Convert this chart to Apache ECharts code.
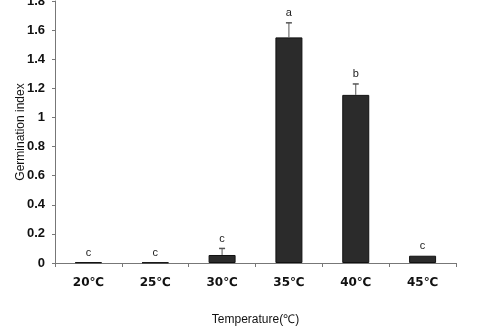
<!DOCTYPE html>
<html><head><meta charset="utf-8">
<script src="https://cdn.jsdelivr.net/npm/echarts@6/dist/echarts.min.js"></script>
<style>html,body{margin:0;padding:0;background:#fff}#c{width:478px;height:332px}</style>
</head><body><div id="c"></div>
<script>
const categories = ['20℃','25℃','30℃','35℃','40℃','45℃'];
const values = [0.005, 0.004, 0.055, 1.55, 1.155, 0.05];
const errors = [0, 0, 0.045, 0.10, 0.075, 0];
const letters = ['c','c','c','a','b','c'];
const yTicks = {min: 0, max: 1.8, interval: 0.2};

const chart = echarts.init(document.getElementById('c'));
const errData = categories.map((c, i) => [i, values[i], values[i] + errors[i], letters[i]]);
chart.setOption({
  animation: false,
  grid: {left: 55, right: 22, top: 1, bottom: 69, outerBoundsMode: 'none', containLabel: false},
  xAxis: {
    type: 'category', data: categories,
    axisLine: {lineStyle: {color: '#777'}},
    axisTick: {show: true, length: 4, lineStyle: {color: '#777'}},
    axisLabel: {color: '#111', fontWeight: 'bold', fontSize: 12, margin: 14, fontFamily: 'DejaVu Sans'},
    name: 'Temperature(℃)', nameLocation: 'middle', nameGap: 51, nameMoveOverlap: false,
    nameTextStyle: {color: '#111', fontSize: 12, fontFamily: 'Liberation Sans'}
  },
  yAxis: {
    type: 'value', min: yTicks.min, max: yTicks.max, interval: yTicks.interval,
    splitLine: {show: false},
    axisLine: {show: true, lineStyle: {color: '#777'}},
    axisTick: {show: true, length: 3, lineStyle: {color: '#777'}},
    axisLabel: {color: '#111', fontWeight: 'bold', fontSize: 13, margin: 10, fontFamily: 'Liberation Sans'},
    name: 'Germination index', nameLocation: 'middle', nameGap: 28, nameMoveOverlap: false,
    nameTextStyle: {color: '#111', fontSize: 12, fontFamily: 'Liberation Sans'}
  },
  series: [
    {
      type: 'bar', data: values, barWidth: 27,
      itemStyle: {color: '#2b2b2b', borderColor: '#111', borderWidth: 1}
    },
    {
      type: 'custom', data: errData, z: 5,
      renderItem: function (params, api) {
        const x = api.value(0);
        const base = api.coord([x, api.value(1)]);
        const top = api.coord([x, api.value(2)]);
        const children = [];
        if (top[1] < base[1] - 0.5) {
          children.push({type: 'line', shape: {x1: top[0], y1: base[1], x2: top[0], y2: top[1]}, style: {stroke: '#555', lineWidth: 1}});
          children.push({type: 'line', shape: {x1: top[0] - 3, y1: top[1], x2: top[0] + 3, y2: top[1]}, style: {stroke: '#555', lineWidth: 1.5}});
        }
        children.push({type: 'text', style: {text: api.value(3), x: top[0], y: top[1] - 4, align: 'center', verticalAlign: 'bottom', fill: '#222', font: '11px Liberation Sans'}});
        return {type: 'group', children: children};
      }
    }
  ]
});
</script></body></html>
